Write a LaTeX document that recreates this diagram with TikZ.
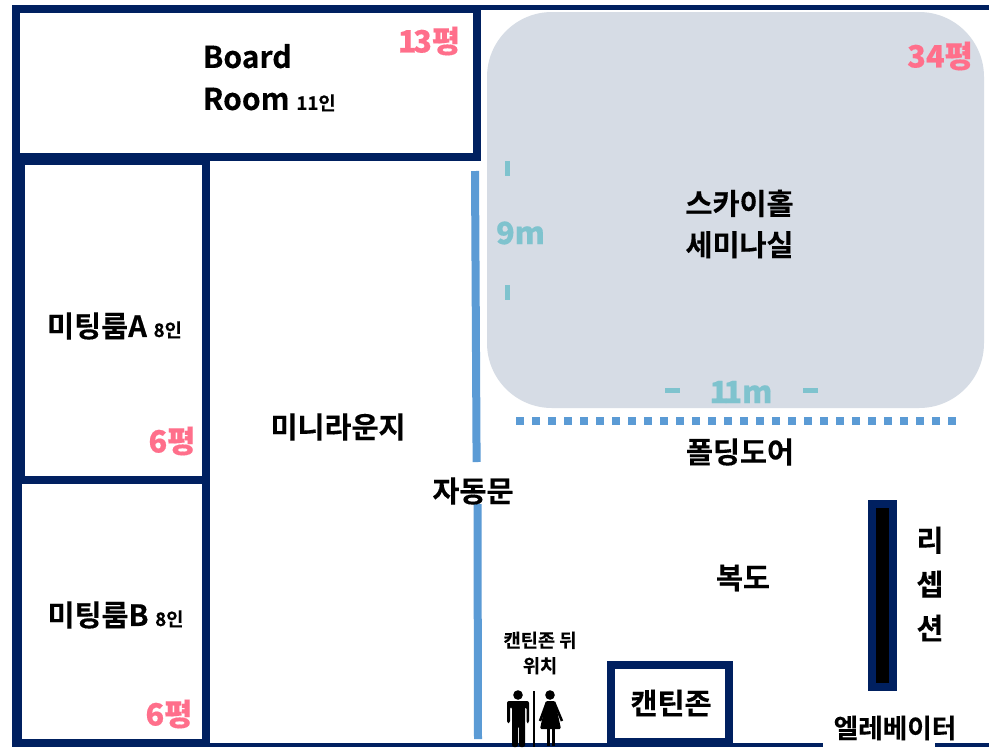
\documentclass[tikz,border=0pt]{standalone}
\usepackage{fontspec}
\setmainfont{Noto Sans CJK KR}[BoldFont={* Bold},BoldFeatures={FakeBold=0.25}]
\newfontfamily\heavy{Noto Sans CJK KR Black}[FakeBold=0.4]
\definecolor{navy}{HTML}{002060}
\definecolor{hall}{HTML}{D6DCE5}
\definecolor{door}{HTML}{5B9BD5}
\definecolor{pinktxt}{HTML}{FF6F8B}
\definecolor{teal}{HTML}{7FC3CE}
\newcommand{\fa}{\fontsize{22}{27}\selectfont\bfseries}
\newcommand{\fb}{\fontsize{14}{17}\selectfont\bfseries}
\newcommand{\fc}{\fontsize{22.5}{31.5}\selectfont\bfseries}
\newcommand{\fd}{\fontsize{23}{27}\selectfont\heavy}
\tikzset{
  x=0.75pt,y=-0.75pt,
  lbl/.style={inner sep=0pt,outer sep=0pt,font=\fa,text=black,align=center,anchor=center},
  area/.style={lbl,font=\fd,text=pinktxt},
  dim/.style={lbl,font=\fd,text=teal},
  wall/.style={fill=navy,draw=none},
  clear/.style={fill=white,draw=none},
  tick/.style={fill=teal,draw=none},
  figure/.style={fill=black,draw=none}
}
\begin{document}
\begin{tikzpicture}
\useasboundingbox (0,0) rectangle (989,747);
\fill[white] (0,0) rectangle (989,747);
% outer lines
\fill[wall] (481,5) rectangle (989,10);
\fill[wall] (210,743) rectangle (823,747);
\fill[wall] (935,743) rectangle (989,747);
% board room
\fill[wall] (12,5) rectangle (481,161);
\fill[clear] (20,13) rectangle (473,153);
% meeting rooms
\fill[wall] (12,161) rectangle (210,747);
\fill[clear] (25,165) rectangle (202,476);
\fill[clear] (22,484) rectangle (202,739);
% hall
\fill[hall,rounded corners=65*0.75pt] (487,12) rectangle (984,408);
% doors
\draw[door,line width=6pt] (475,171) -- (476.6,462);
\draw[door,line width=6pt] (477.5,504) -- (478,739);
\draw[door,line width=6pt,dash pattern=on 6pt off 6pt] (516,421) -- (956,421);
% reception
\fill[wall] (868,500) rectangle (897,691);
\fill[black] (876,508) rectangle (889,683);
% canteen
\fill[wall] (607,661) rectangle (733,745);
\fill[clear] (615,669) rectangle (725,738);
% dimension ticks
\fill[tick] (505,161) rectangle (510,176);
\fill[tick] (505,285) rectangle (510,300);
\fill[tick] (665,388) rectangle (680,393);
\fill[tick] (803,388) rectangle (818,393);
% restroom
\fill[figure] (518,695) circle (4.8);
\fill[figure,rounded corners=1.5pt] (507,723) -- (507,701) -- (529,701) -- (529,723) -- (526.5,723) -- (526.5,707) -- (525,707) -- (525,747) -- (519,747) -- (519,726) -- (518,726) -- (518,747) -- (512,747) -- (512,707) -- (510,707) -- (510,723) -- cycle;
\fill[black] (532.5,691) rectangle (535,747);
\fill[figure] (550,695) circle (4.8);
\fill[figure,rounded corners=1pt] (546,701) -- (555,701) -- (561,729) -- (540,729) -- cycle;
\draw[black,line width=1.9pt,line join=round] (547,702) -- (540,721);
\draw[black,line width=1.9pt,line join=round] (554,702) -- (562,721);
\fill[black] (546.5,728) rectangle (550,746);
\fill[black] (551.5,728) rectangle (555,746);
% labels
\node[lbl,align=left,anchor=north west,font=\fc] (board) at (203,44) {Board\\Room {\fb 11인}};
\node[area] (a13) at (429,41) {1\kern-2.5pt 3평};
\node[area] (a34) at (940,56) {34평};
\node[lbl] (sky) at (739.5,224) {스카이홀\\[4pt]세미나실};
\node[dim] (d9) at (520.5,233) {9m};
\node[dim] (d11) at (741,392) {1\kern-3.5pt 1m};
\node[lbl] (ma) at (114.5,326) {미팅룸A {\fb 8인}};
\node[area] (a6a) at (172,441) {6평};
\node[lbl] (mb) at (115.5,615) {미팅룸B {\fb 8인}};
\node[area] (a6b) at (169,714) {6평};
\node[lbl] (lounge) at (338,427) {미니라운지};
\node[lbl] (auto) at (473,491) {자동문};
\node[lbl] (fold) at (740,452) {폴딩도어};
\node[lbl] (hall) at (743,578) {복도};
\node[lbl,align=center] (rec) at (930,584) {리\\[6pt]셉\\[6pt]션};
\node[lbl,font=\fb] (rest) at (540,653) {캔틴존 뒤\\[2pt]위치};
\node[lbl] (cant) at (671,703) {캔틴존};
\node[lbl,font=\fontsize{20}{24}\selectfont\bfseries] (ev) at (895,728) {엘레베이터};
\end{tikzpicture}
\end{document}
